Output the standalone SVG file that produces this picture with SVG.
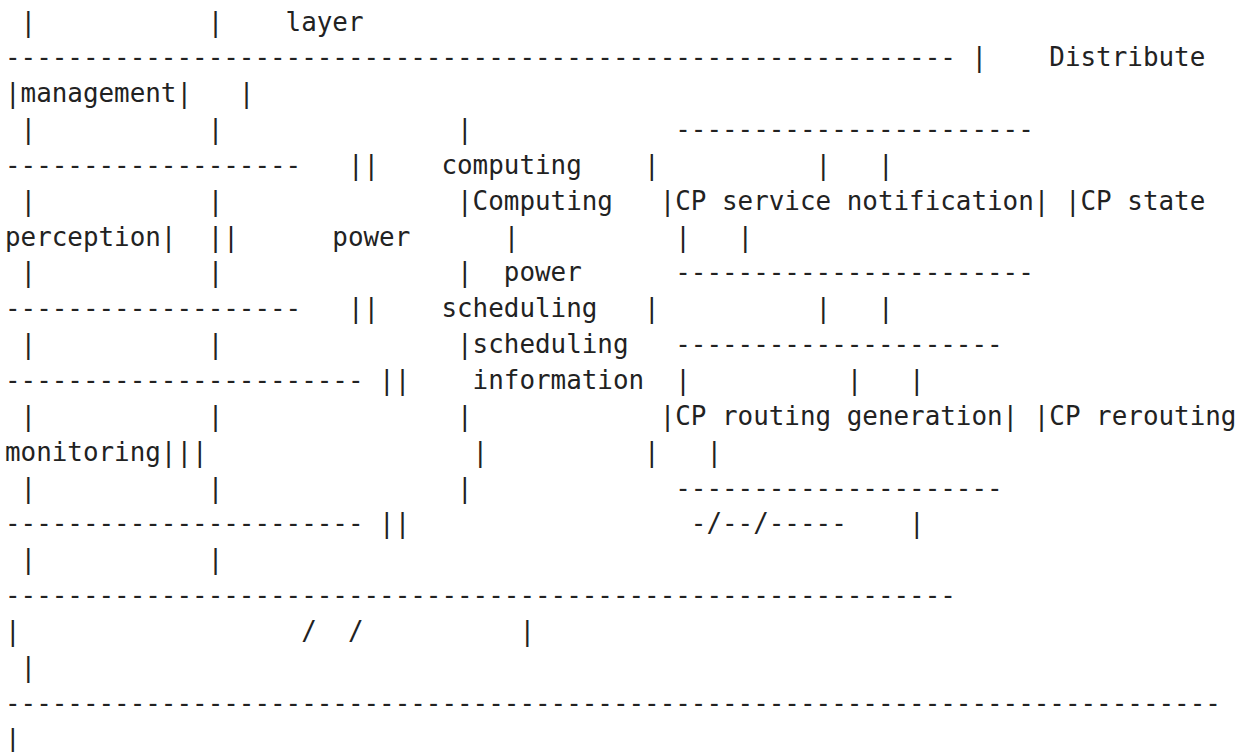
<svg xmlns="http://www.w3.org/2000/svg" width="1246" height="752" viewBox="0 0 1246 752">
<style>
.t{font-family:"DejaVu Sans Mono","Liberation Mono",monospace;font-size:25.9px;fill:#222;white-space:pre}
</style>
<rect width="1246" height="752" fill="#ffffff"/>
<g id="ascii-art">
<text class="t" xml:space="preserve" x="5" y="30.5"> |           |    layer</text>
<text class="t" xml:space="preserve" x="5" y="66.35">------------------------------------------------------------- |    Distribute</text>
<text class="t" xml:space="preserve" x="5" y="102.2">|management|   |</text>
<text class="t" xml:space="preserve" x="5" y="138.05"> |           |               |             -----------------------</text>
<text class="t" xml:space="preserve" x="5" y="173.9">-------------------   ||    computing    |          |   |</text>
<text class="t" xml:space="preserve" x="5" y="209.75"> |           |               |Computing   |CP service notification| |CP state</text>
<text class="t" xml:space="preserve" x="5" y="245.6">perception|  ||      power      |          |   |</text>
<text class="t" xml:space="preserve" x="5" y="281.45"> |           |               |  power      -----------------------</text>
<text class="t" xml:space="preserve" x="5" y="317.3">-------------------   ||    scheduling   |          |   |</text>
<text class="t" xml:space="preserve" x="5" y="353.15"> |           |               |scheduling   ---------------------</text>
<text class="t" xml:space="preserve" x="5" y="389">----------------------- ||    information  |          |   |</text>
<text class="t" xml:space="preserve" x="5" y="424.85"> |           |               |            |CP routing generation| |CP rerouting</text>
<text class="t" xml:space="preserve" x="5" y="460.7">monitoring|||                 |          |   |</text>
<text class="t" xml:space="preserve" x="5" y="496.55"> |           |               |             ---------------------</text>
<text class="t" xml:space="preserve" x="5" y="532.4">----------------------- ||                  -/--/-----    |</text>
<text class="t" xml:space="preserve" x="5" y="568.25"> |           |</text>
<text class="t" xml:space="preserve" x="5" y="604.1">-------------------------------------------------------------</text>
<text class="t" xml:space="preserve" x="5" y="639.95">|                  /  /          |</text>
<text class="t" xml:space="preserve" x="5" y="675.8"> |</text>
<text class="t" xml:space="preserve" x="5" y="711.65">------------------------------------------------------------------------------</text>
<text class="t" xml:space="preserve" x="5" y="747.5">|</text>
</g>
</svg>
